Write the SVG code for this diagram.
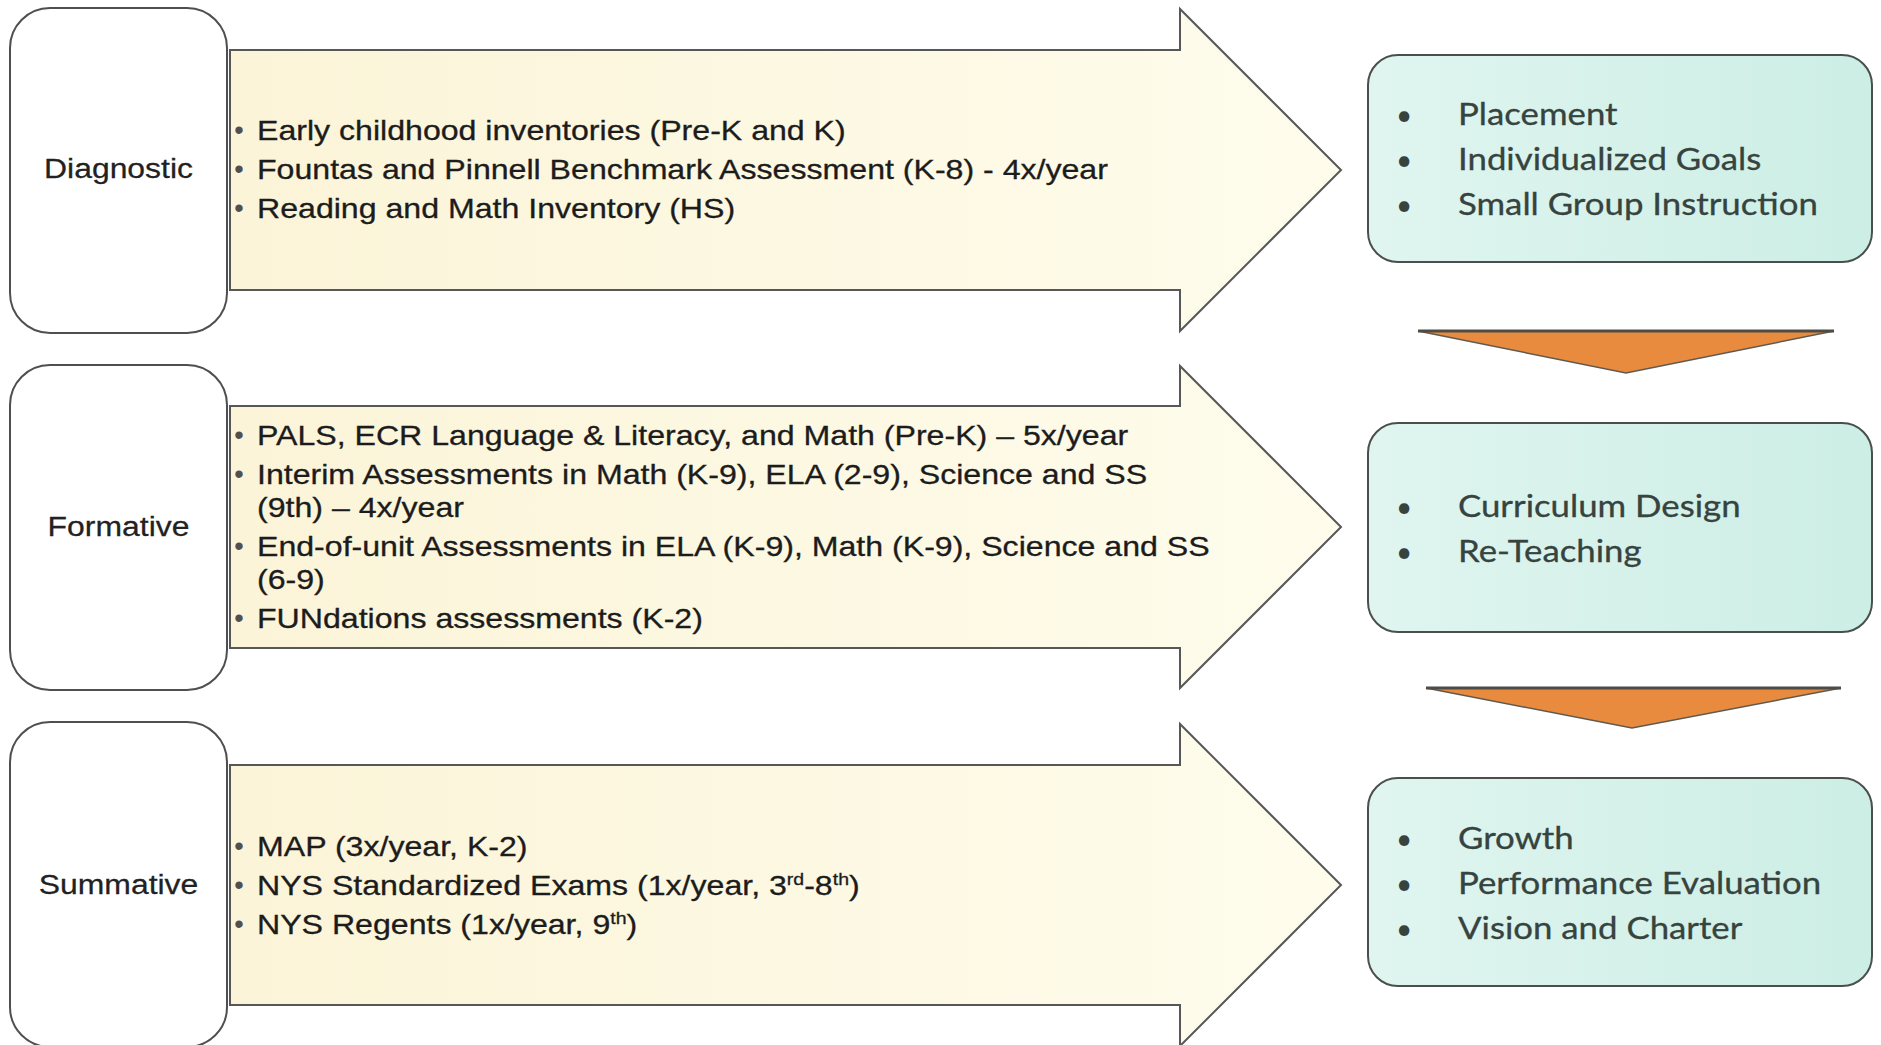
<svg xmlns="http://www.w3.org/2000/svg" width="1881" height="1045" viewBox="0 0 1881 1045">
  <defs>
    <linearGradient id="cream" x1="0" y1="0" x2="1" y2="0">
      <stop offset="0" stop-color="#FBF4D8"/>
      <stop offset="1" stop-color="#FEFCEC"/>
    </linearGradient>
    <linearGradient id="teal" x1="0" y1="0" x2="1" y2="0">
      <stop offset="0" stop-color="#E0F5F0"/>
      <stop offset="1" stop-color="#CCEEE5"/>
    </linearGradient>
  </defs>
  <style>
    .label-box { fill: #FFFFFF; stroke: #4F4F4F; stroke-width: 2; }
    .block-arrow { fill: url(#cream); stroke: #575757; stroke-width: 2; }
    .out-box { fill: url(#teal); stroke: #4A4F4C; stroke-width: 2; }
    .down { fill: #E98B3E; stroke: #5E5A50; stroke-width: 1.5; stroke-linejoin: miter; }
    .down-top { stroke: #4E4C45; stroke-width: 3; }
    .lbl { font-family: "Liberation Sans", Arial, sans-serif; font-size: 28px; fill: #222222; stroke: #222222; stroke-width: 0.25; text-anchor: middle; }
    .t { font-family: "Liberation Sans", Arial, sans-serif; font-size: 28px; fill: #1C1C1C; stroke: #1C1C1C; stroke-width: 0.3; }
    .b { font-family: "Liberation Sans", Arial, sans-serif; font-size: 27px; fill: #505050; text-anchor: middle; }
    .r { font-family: Lato, "Open Sans", sans-serif; font-size: 30px; fill: #36433F; stroke: #36433F; stroke-width: 0.3; }
    .rb { font-family: Lato, "Open Sans", sans-serif; font-size: 28px; fill: #36433F; text-anchor: middle; }
  </style>
  <rect width="1881" height="1045" fill="#FFFFFF"/>

  <!-- Row 1: Diagnostic -->
  <g id="diagnostic">
    <rect class="label-box" x="10" y="8" width="217" height="325" rx="40" ry="40"/>
    <text class="lbl" transform="translate(118.5,178) scale(1.14,1)">Diagnostic</text>
  </g>
  <g id="diagnostic-tools">
    <path class="block-arrow" d="M230,50 H1180 V9 L1341,170 L1180,331 V290 H230 Z"/>
    <text class="b" x="239" y="139">•</text>
    <text class="b" x="239" y="178">•</text>
    <text class="b" x="239" y="217">•</text>
    <text class="t" transform="translate(257,140) scale(1.147,1)">Early childhood inventories (Pre-K and K)</text>
    <text class="t" transform="translate(257,179) scale(1.147,1)">Fountas and Pinnell Benchmark Assessment (K-8) - 4x/year</text>
    <text class="t" transform="translate(257,218) scale(1.147,1)">Reading and Math Inventory (HS)</text>
  </g>
  <g id="diagnostic-uses">
    <rect class="out-box" x="1368" y="55" width="504" height="207" rx="30" ry="30"/>
    <text class="rb" x="1404" y="125">•</text>
    <text class="rb" x="1404" y="170">•</text>
    <text class="rb" x="1404" y="215">•</text>
    <text class="r" transform="translate(1458,125) scale(1.16,1)">Placement</text>
    <text class="r" transform="translate(1458,170) scale(1.16,1)">Individualized Goals</text>
    <text class="r" transform="translate(1458,215) scale(1.16,1)">Small Group Instruction</text>
  </g>

  <!-- Row 2: Formative -->
  <g id="formative">
    <rect class="label-box" x="10" y="365" width="217" height="325" rx="40" ry="40"/>
    <text class="lbl" transform="translate(118.5,536) scale(1.14,1)">Formative</text>
  </g>
  <g id="formative-tools">
    <path class="block-arrow" d="M230,406 H1180 V366 L1341,527 L1180,688 V648 H230 Z"/>
    <text class="b" x="239" y="444">•</text>
    <text class="b" x="239" y="483">•</text>
    <text class="b" x="239" y="555">•</text>
    <text class="b" x="239" y="627">•</text>
    <text class="t" transform="translate(257,445) scale(1.147,1)">PALS, ECR Language &amp; Literacy, and Math (Pre-K) – 5x/year</text>
    <text class="t" transform="translate(257,484) scale(1.147,1)">Interim Assessments in Math (K-9), ELA (2-9), Science and SS</text>
    <text class="t" transform="translate(257,517) scale(1.147,1)">(9th) – 4x/year</text>
    <text class="t" transform="translate(257,556) scale(1.147,1)">End-of-unit Assessments in ELA (K-9), Math (K-9), Science and SS</text>
    <text class="t" transform="translate(257,589) scale(1.147,1)">(6-9)</text>
    <text class="t" transform="translate(257,628) scale(1.147,1)">FUNdations assessments (K-2)</text>
  </g>
  <g id="formative-uses">
    <rect class="out-box" x="1368" y="423" width="504" height="209" rx="30" ry="30"/>
    <text class="rb" x="1404" y="517">•</text>
    <text class="rb" x="1404" y="562">•</text>
    <text class="r" transform="translate(1458,517) scale(1.16,1)">Curriculum Design</text>
    <text class="r" transform="translate(1458,562) scale(1.16,1)">Re-Teaching</text>
  </g>

  <!-- Row 3: Summative -->
  <g id="summative">
    <rect class="label-box" x="10" y="722" width="217" height="325" rx="40" ry="40"/>
    <text class="lbl" transform="translate(118.5,894) scale(1.14,1)">Summative</text>
  </g>
  <g id="summative-tools">
    <path class="block-arrow" d="M230,765 H1180 V724 L1341,885 L1180,1046 V1005 H230 Z"/>
    <text class="b" x="239" y="855">•</text>
    <text class="b" x="239" y="894">•</text>
    <text class="b" x="239" y="933">•</text>
    <text class="t" transform="translate(257,856) scale(1.147,1)">MAP (3x/year, K-2)</text>
    <text class="t" transform="translate(257,895) scale(1.147,1)">NYS Standardized Exams (1x/year, 3<tspan dy="-10" font-size="17">rd</tspan><tspan dy="10">-8</tspan><tspan dy="-10" font-size="17">th</tspan><tspan dy="10">)</tspan></text>
    <text class="t" transform="translate(257,934) scale(1.147,1)">NYS Regents (1x/year, 9<tspan dy="-10" font-size="17">th</tspan><tspan dy="10">)</tspan></text>
  </g>
  <g id="summative-uses">
    <rect class="out-box" x="1368" y="778" width="504" height="208" rx="30" ry="30"/>
    <text class="rb" x="1404" y="849">•</text>
    <text class="rb" x="1404" y="894">•</text>
    <text class="rb" x="1404" y="939">•</text>
    <text class="r" transform="translate(1458,849) scale(1.16,1)">Growth</text>
    <text class="r" transform="translate(1458,894) scale(1.16,1)">Performance Evaluation</text>
    <text class="r" transform="translate(1458,939) scale(1.16,1)">Vision and Charter</text>
  </g>

  <!-- Connectors -->
  <g id="connectors">
    <polygon class="down" points="1418,331 1834,331 1626,373"/>
    <line class="down-top" x1="1418" y1="331" x2="1834" y2="331"/>
    <polygon class="down" points="1426,688 1841,688 1632,728"/>
    <line class="down-top" x1="1426" y1="688" x2="1841" y2="688"/>
  </g>
</svg>
